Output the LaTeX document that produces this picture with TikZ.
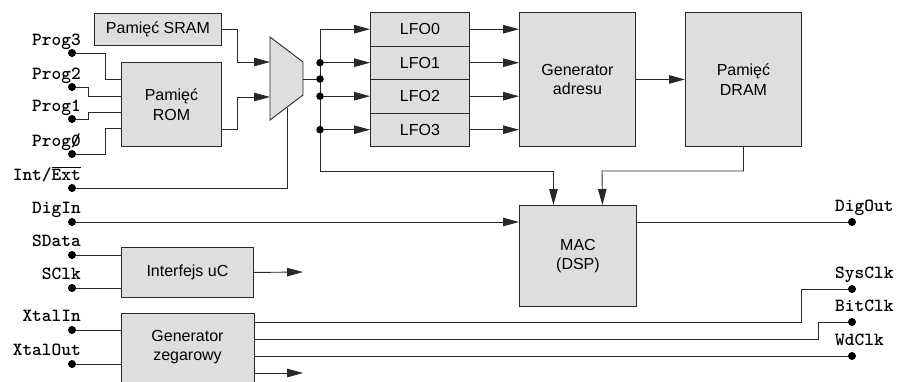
\documentclass[tikz,border=0pt]{standalone}
\usepackage{fontspec}
\usetikzlibrary{arrows.meta,calc}
\newfontfamily\boxfont{Liberation Sans}
\definecolor{boxfill}{RGB}{222,222,222}
\definecolor{wirecol}{RGB}{40,40,40}
\newcommand{\slzero}{\ooalign{0\cr\hidewidth/\hidewidth\cr}}
\tikzset{
  blk/.style={draw=wirecol, fill=boxfill, line width=0.9pt, inner sep=0pt,
    anchor=north west, align=center,
    font=\boxfont\fontsize{16}{19.5}\selectfont},
  wire/.style={draw=wirecol, line width=0.9pt},
  arr/.style={wire, -{Triangle[length=16pt,width=8.5pt]}},
  terminal/.style={circle, fill=black, inner sep=0pt, minimum size=7.7pt},
  sigtext/.style={inner sep=0pt, font=\ttfamily\bfseries\fontsize{18.5}{20}\selectfont},
  junction/.style={circle, fill=black, inner sep=0pt, minimum size=7.5pt}
}
\begin{document}
\begin{tikzpicture}[x=1pt,y=-1pt]
\useasboundingbox (0,0) rectangle (897,381);
\begin{scope}
\clip (0,0) rectangle (897,381);

% functional blocks
\node[blk, minimum width=127pt, minimum height=32pt] (sram) at (94,13) {Pamięć SRAM};
\node[blk, minimum width=100pt, minimum height=84pt] (rom) at (121,62) {Pamięć\\ROM};
\node[blk, minimum width=99pt, minimum height=33.5pt] (lfo0) at (370,12) {LFO0};
\node[blk, minimum width=99pt, minimum height=33.5pt] (lfo1) at (370,45.5) {LFO1};
\node[blk, minimum width=99pt, minimum height=33.5pt] (lfo2) at (370,79) {LFO2};
\node[blk, minimum width=99pt, minimum height=33.5pt] (lfo3) at (370,112.5) {LFO3};
\node[blk, minimum width=116pt, minimum height=134pt] (gen) at (519,12) {Generator\\adresu};
\node[blk, minimum width=116pt, minimum height=134pt] (dram) at (685,12) {Pamięć\\DRAM};
\node[blk, minimum width=117pt, minimum height=101pt] (mac) at (519,205) {MAC\\(DSP)};
\node[blk, minimum width=132pt, minimum height=50pt] (uc) at (121,247) {Interfejs uC};
\node[blk, minimum width=133pt, minimum height=80pt, text depth=0pt] (clk) at (121,313) {};
\node[align=center, inner sep=0pt, font=\boxfont\fontsize{16}{19.5}\selectfont] (clktxt) at (187.5,347) {Generator\\zegarowy};

% multiplexer
\draw[wire, fill=boxfill] (270,37) -- (303,62) -- (303,95) -- (270,120) -- cycle;
\coordinate (muxa) at (270,62);
\coordinate (muxb) at (270,97);
\coordinate (muxo) at (303,79);
\coordinate (muxs) at (287,108);
\coordinate (bus) at (320,0);

% terminals, left side
\node[terminal] (p3) at (72,53) {};
\node[terminal] (p2) at (72,87) {};
\node[terminal] (p1) at (72,119) {};
\node[terminal] (p0) at (72,154) {};
\node[terminal] (pie) at (72,188) {};
\node[terminal] (pdi) at (72,222) {};
\node[terminal] (psd) at (72,255) {};
\node[terminal] (psc) at (72,288) {};
\node[terminal] (pxi) at (72,330) {};
\node[terminal] (pxo) at (72,364) {};
% terminals, right side
\node[terminal] (pdo) at (852,222) {};
\node[terminal] (psys) at (852,289) {};
\node[terminal] (pbit) at (852,322) {};
\node[terminal] (pwd) at (852,356) {};

\node[sigtext, anchor=base east] (t3) at (81,45) {Prog3};
\node[sigtext, anchor=base east] (t2) at (81,79) {Prog2};
\node[sigtext, anchor=base east] (t1) at (81,111) {Prog1};
\node[sigtext, anchor=base east] (t0) at (81,146) {Prog\slzero};
\node[sigtext, anchor=base east] (tie) at (81,180) {Int/$\overline{\hbox{Ext}}$};
\node[sigtext, anchor=base east] (tdi) at (81,213.5) {DigIn};
\node[sigtext, anchor=base east] (tsd) at (81,246.5) {SData};
\node[sigtext, anchor=base east] (tsc) at (81,279.5) {SClk};
\node[sigtext, anchor=base east] (txi) at (81,321.5) {XtalIn};
\node[sigtext, anchor=base east] (txo) at (81,355.5) {XtalOut};
\node[sigtext, anchor=base west] (tdo) at (835,211) {DigOut};
\node[sigtext, anchor=base west] (tsys) at (835,278) {SysClk};
\node[sigtext, anchor=base west] (tbit) at (835,311) {BitClk};
\node[sigtext, anchor=base west] (twd) at (835,345) {WdClk};

% program select lines into ROM
\draw[wire] (p3) -| (105,79) -- (rom.west |- 0,79);
\draw[wire] (p2) -| (88,96) -- (rom.west |- 0,96);
\draw[wire] (p1) -| (88,112) -- (rom.west |- 0,112);
\draw[wire] (p0) -| (105,128) -- (rom.west |- 0,128);

% memories into multiplexer
\draw[arr] (sram.east) -| (237,62) -- (muxa);
\draw[arr] (rom.east |- 0,129) -| (237,97) -- (muxb);
\draw[wire] (pie) -| (muxs);

% multiplexer bus to LFOs
\draw[wire] (muxo) -- (bus |- muxo);
\draw[wire] (bus |- lfo0.west) -- (bus |- 0,171);
\draw[arr] (bus |- lfo0.west) -- (lfo0.west);
\draw[arr] (bus |- lfo1.west) -- (lfo1.west);
\draw[arr] (bus |- lfo2.west) -- (lfo2.west);
\draw[arr] (bus |- lfo3.west) -- (lfo3.west);
\node[junction] (j1) at (bus |- lfo1.west) {};
\node[junction] (jm) at (bus |- muxo) {};
\node[junction] (j2) at (bus |- lfo2.west) {};
\node[junction] (j3) at (bus |- lfo3.west) {};

% LFOs into address generator
\draw[arr] (lfo0.east) -- (gen.west |- lfo0.east);
\draw[arr] (lfo1.east) -- (gen.west |- lfo1.east);
\draw[arr] (lfo2.east) -- (gen.west |- lfo2.east);
\draw[arr] (lfo3.east) -- (gen.west |- lfo3.east);
\draw[arr] (gen.east) -- (dram.west);

% into MAC
\draw[arr] (bus |- 0,171) -| ([xshift=-24.5pt]mac.north);
\draw[arr] (dram.south) |- (602,171) -- ([xshift=24.5pt]mac.north);
\draw[arr] (pdi) -- (mac.west |- pdi);
\draw[wire] (mac.east |- pdo) -- (pdo);

% microcontroller interface
\draw[wire] (psd) -- (uc.west |- psd);
\draw[wire] (psc) -- (uc.west |- psc);
\coordinate (ucout) at (303,272);
\draw[arr] (uc.east) -- (ucout);

% clock generator
\draw[wire] (pxi) -- (clk.west |- pxi);
\draw[wire] (pxo) -- (clk.west |- pxo);
\draw[wire] (clk.east |- 0,322) -| (801,289) -- (psys);
\draw[wire] (clk.east |- 0,339) -| (818,322) -- (pbit);
\draw[wire] (clk.east |- 0,356) -- (pwd);
\coordinate (clkout) at (303,373);
\draw[arr] (clk.east |- clkout) -- (clkout);

% redraw terminals on top of wires
\foreach \p in {p3,p2,p1,p0,pie,pdi,psd,psc,pxi,pxo,pdo,psys,pbit,pwd}
  \fill (\p) circle (3.85pt);
\end{scope}
\end{tikzpicture}
\end{document}
